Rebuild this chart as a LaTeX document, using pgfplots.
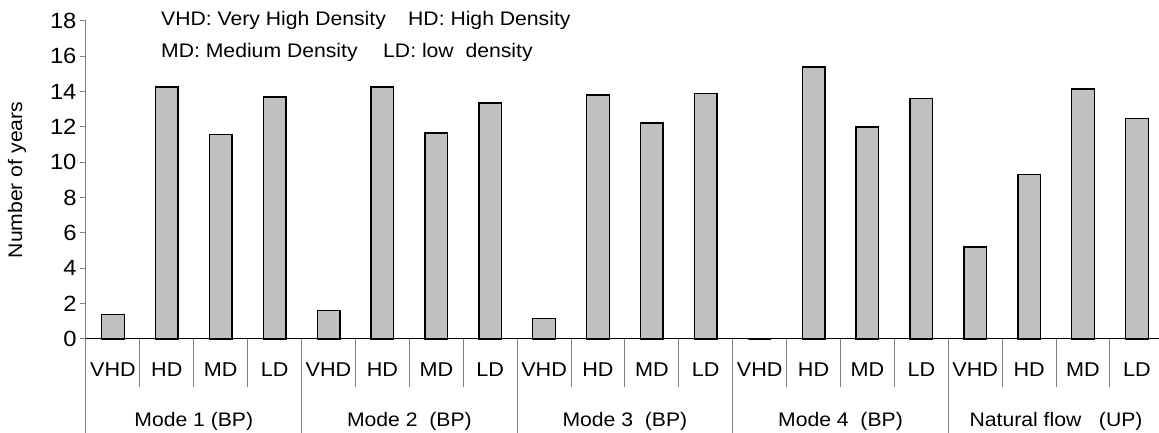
\documentclass[border=0pt]{standalone}
\usepackage{fontspec}
\setmainfont[FakeStretch=1.08]{Liberation Sans}
\usepackage{pgfplots}
\pgfplotsset{compat=1.18}
\definecolor{barfill}{HTML}{C0C0C0}
\definecolor{linegray}{HTML}{808080}
\newcommand{\fs}{\fontsize{19.6}{22}\selectfont}
\newcommand{\fc}{\fontsize{20}{23}\selectfont}
\newcommand{\ft}{\fontsize{22}{25}\selectfont}
\begin{document}
\begin{tikzpicture}
\begin{axis}[
  scale only axis, width=1073pt, height=318pt,
  xmin=-0.5, xmax=19.41, ymin=0, ymax=18,
  axis x line*=bottom, axis y line*=left,
  x axis line style={black, line width=1pt},
  y axis line style={linegray, line width=1pt},
  ytick={0,2,...,18},
  ytick style={linegray, line width=1pt},
  tick align=outside, major tick length=6pt,
  xtick={0,...,19}, xtick style={draw=none},
  xticklabels={VHD,HD,MD,LD,VHD,HD,MD,LD,VHD,HD,MD,LD,VHD,HD,MD,LD,VHD,HD,MD,LD},
  yticklabel style={font=\ft},
  xticklabel style={font=\fc, anchor=base, yshift=-31.7pt},
  /pgf/number format/assume math mode=true,
  ybar, bar width=0.42,
  clip=false,
]
\addplot[fill=barfill, draw=black, line width=1.4pt] coordinates {
  (0,1.37) (1,14.26) (2,11.56) (3,13.70)
  (4,1.60) (5,14.26) (6,11.66) (7,13.36)
  (8,1.15) (9,13.81) (10,12.22) (11,13.90)
  (12,0) (13,15.39) (14,12.01) (15,13.60)
  (16,5.20) (17,9.30) (18,14.15) (19,12.47)
};
\coordinate (O) at (rel axis cs:0,0);
\coordinate (TR) at (rel axis cs:1,1);
\pgfplotsinvokeforeach{0.5,1.5,2.5,4.5,5.5,6.5,8.5,9.5,10.5,12.5,13.5,14.5,16.5,17.5,18.5}{
  \draw[linegray, line width=1pt] (axis cs:#1,0) -- ([yshift=-48pt]axis cs:#1,0);
}
\pgfplotsinvokeforeach{-0.5,3.5,7.5,11.5,15.5}{
  \draw[linegray, line width=1pt] (axis cs:#1,0) -- ([yshift=-94pt]axis cs:#1,0);
}
\node[font=\fs, anchor=base, yshift=-88pt] at (axis cs:1.5,0) {Mode 1 (BP)};
\node[font=\fs, anchor=base, yshift=-88pt] at (axis cs:5.5,0) {Mode 2\ \ (BP)};
\node[font=\fs, anchor=base, yshift=-88pt] at (axis cs:9.5,0) {Mode 3\ \ (BP)};
\node[font=\fs, anchor=base, yshift=-88pt] at (axis cs:13.5,0) {Mode 4\ \ (BP)};
\node[font=\fs, anchor=base, yshift=-88pt] at (axis cs:17.5,0) {Natural flow\ \ \ (UP)};
\node[rotate=90, font=\fs] at ([xshift=-69pt]rel axis cs:0,0.5) {Number of years};
\node[anchor=base west, font=\fs, inner sep=0pt] at ([xshift=75pt,yshift=313.5pt]rel axis cs:0,0) {VHD: Very High Density};
\node[anchor=base west, font=\fs, inner sep=0pt] at ([xshift=322pt,yshift=313.5pt]rel axis cs:0,0) {HD: High Density};
\node[anchor=base west, font=\fs, inner sep=0pt] at ([xshift=75pt,yshift=281pt]rel axis cs:0,0) {MD: Medium Density};
\node[anchor=base west, font=\fs, inner sep=0pt] at ([xshift=297pt,yshift=281pt]rel axis cs:0,0) {LD: low\ \ density};
\end{axis}
\pgfresetboundingbox
\path[use as bounding box] ([xshift=-86pt,yshift=-94pt]O) rectangle ([yshift=21pt]TR);
\end{tikzpicture}
\end{document}
